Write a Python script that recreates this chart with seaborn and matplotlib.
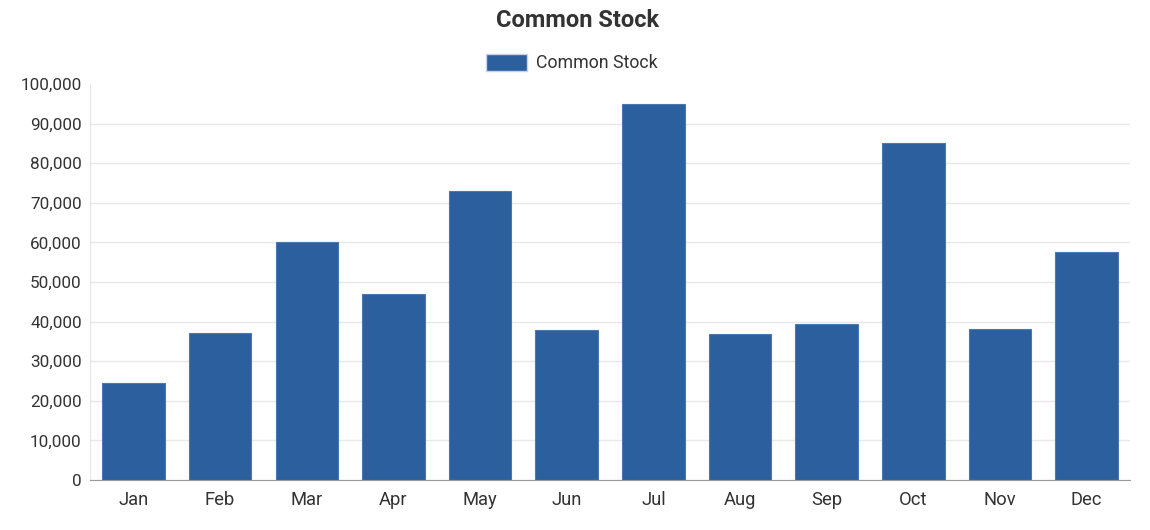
import pandas as pd
import matplotlib
matplotlib.use("Agg")
import matplotlib.pyplot as plt
import seaborn as sns
from matplotlib.ticker import FuncFormatter
from matplotlib.patches import Patch

# chart data
months = ["Jan", "Feb", "Mar", "Apr", "May", "Jun",
          "Jul", "Aug", "Sep", "Oct", "Nov", "Dec"]
common_stock = [24500, 37200, 60100, 47000, 73000, 37900,
                94900, 36900, 39400, 85100, 38100, 57600]

df = pd.DataFrame({"Month": months, "Common Stock": common_stock})

sns.set_style("white")
plt.rcParams["font.family"] = ["Roboto", "DejaVu Sans"]

bar_color = "#2c5f9e"
text_color = "#333333"

fig = plt.figure(figsize=(11.5, 5.3), dpi=100)
ax = fig.add_axes([0.0783, 0.0943, 0.9043, 0.7472])

sns.barplot(data=df, x="Month", y="Common Stock", color=bar_color,
            saturation=1, width=0.72, edgecolor="#4a78b0", linewidth=0.8,
            ax=ax)

ax.set_ylim(0, 100000)
ax.set_xlim(-0.5, 11.5)
ax.set_yticks(range(0, 100001, 10000))
ax.yaxis.set_major_formatter(FuncFormatter(lambda v, p: f"{int(v):,}"))
ax.grid(axis="y", color="#e8e8e8", linewidth=1)
ax.get_ygridlines()[-1].set_visible(False)
ax.set_axisbelow(True)
ax.set_xlabel("")
ax.set_ylabel("")

for side in ["top", "right"]:
    ax.spines[side].set_visible(False)
ax.spines["left"].set_color("#e6e6e6")
ax.spines["bottom"].set_color("#999999")
ax.tick_params(axis="both", length=0, colors=text_color)
ax.tick_params(axis="x", pad=8, labelsize=13.2)
ax.tick_params(axis="y", pad=6, labelsize=12.3)

fig.suptitle("Common Stock", x=0.502, y=0.983, fontsize=17,
             fontweight="bold", color=text_color)

handle = Patch(facecolor=bar_color, edgecolor="#c8d4e6", linewidth=1)
fig.legend(handles=[handle], labels=["Common Stock"], loc="center",
           bbox_to_anchor=(0.497, 0.881), frameon=False, fontsize=12.8,
           handlelength=2.3, handleheight=1.07, handletextpad=0.5,
           labelcolor=text_color)

fig.savefig("out.png", dpi=100)
